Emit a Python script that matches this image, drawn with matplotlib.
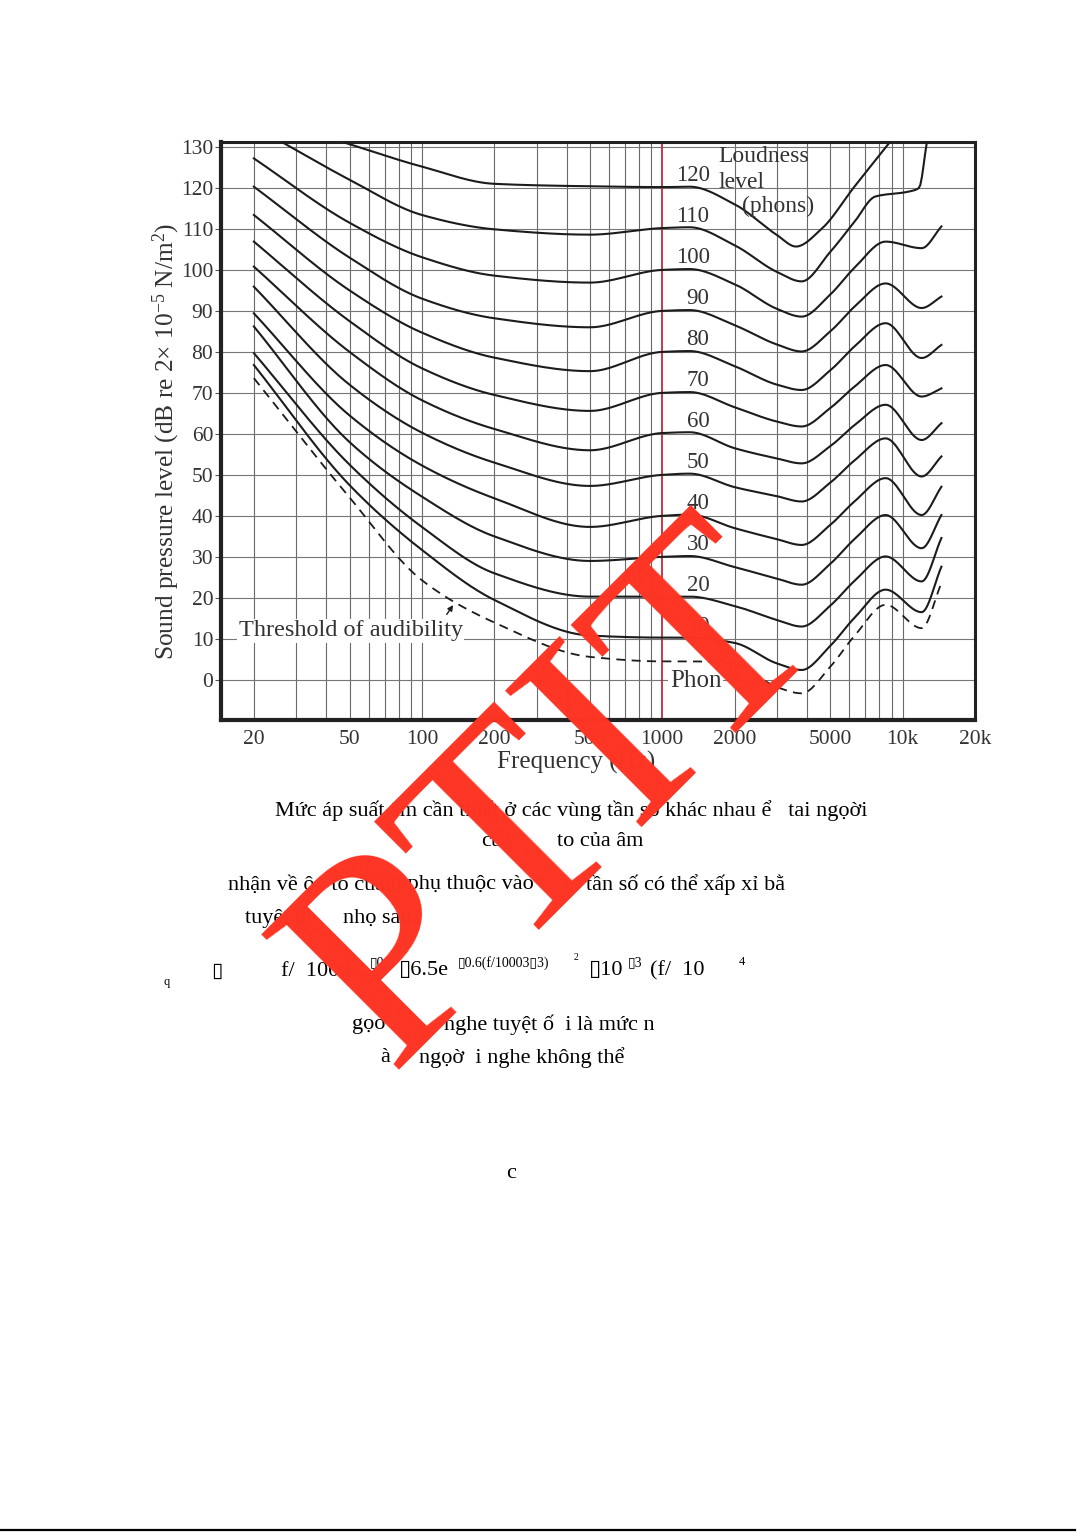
import numpy as np
import matplotlib.pyplot as plt

plt.rcParams['font.family'] = ['Liberation Serif', 'DejaVu Sans']
plt.rcParams['mathtext.fontset'] = 'custom'
plt.rcParams['mathtext.rm'] = 'Liberation Serif'
plt.rcParams['mathtext.it'] = 'Liberation Serif:italic'

# ---- equal-loudness contours (Hz, dB) ----
freqs = [20, 50, 100, 200, 500, 1000, 1300, 2000, 3000, 3800, 5000, 6300, 8500, 12000, 14500]
phons = [100, 90, 80, 70, 60, 50, 40, 30, 20, 10]
spl_100 = [127.2, 111.5, 103.1, 98.6, 96.9, 100, 100.2, 96.5, 90.5, 88.6, 94, 100.5, 106.9, 105.3, 110.6]
spl_90 = [120.3, 103, 93, 88.2, 86, 90, 90.2, 86.5, 81.8, 80.1, 85, 91, 96.7, 90.7, 93.5]
spl_80 = [113.4, 95, 84.7, 78.6, 75.3, 80, 80.2, 76.5, 72, 70.7, 75.5, 81.3, 87, 78.5, 81.7]
spl_70 = [106.9, 87.5, 76, 69.5, 65.6, 70, 70.2, 66.5, 63, 61.8, 66.3, 71.5, 76.8, 69.1, 71.1]
spl_60 = [100.8, 80, 68.2, 61.2, 56, 60.2, 60.4, 56.5, 54, 52.8, 57, 62.1, 67.1, 58.5, 62.6]
spl_50 = [95.9, 72, 60.3, 53, 47.3, 50, 50.3, 47, 44.8, 43.5, 48.1, 53.5, 58.9, 49.6, 54.5]
spl_40 = [89.4, 64.5, 52.3, 44.3, 37.3, 40, 40.3, 37, 34.3, 32.9, 37.8, 43.5, 49.2, 40.2, 47.1]
spl_30 = [86.2, 58, 44.7, 35, 29, 30, 30.2, 27.5, 24.7, 23.2, 28.3, 34.3, 40.2, 32.1, 40.2]
spl_20 = [79.7, 52.5, 37.3, 26, 20.3, 20.3, 20.3, 18, 14.6, 13, 18.1, 24.1, 30.1, 24, 34.6]
spl_10 = [76.8, 47.5, 31.7, 19.5, 10.8, 10.3, 10.3, 9, 4, 2.4, 8.3, 15.1, 22, 16.5, 27.6]
spl_thr = [73.6, 44.5, 24.3, 14, 5.6, 4.5, 4.5, 4, -1.8, -3.3, 3.2, 10.7, 18.3, 12.6, 23.6]

f_110 = [26.5, 50, 100, 200, 500, 1000, 1300, 2000, 3000, 3800, 5000, 6300, 7700, 10600, 11700, 12600]
spl_110 = [131, 122, 113.4, 109.9, 108.6, 110.2, 110.4, 106, 99.5, 97.2, 104.4, 111.7, 117.9, 119.1, 120, 131]
f_120 = [48, 100, 200, 500, 1000, 1300, 2000, 3000, 3600, 4600, 6300, 8800]
spl_120 = [131, 125.2, 121, 120.4, 120.2, 120.3, 116, 108.5, 105.7, 110, 120.3, 131]

label_phons = [120, 110, 100, 90, 80, 70, 60, 50, 40, 30, 20, 10]
xtick_vals = [20, 50, 100, 200, 500, 1000, 2000, 5000, 10000, 20000]
xtick_text = ['20', '50', '100', '200', '500', '1000', '2000', '5000', '10k', '20k']
grid_freqs = ([20, 30, 40, 50, 60, 70, 80, 90] + list(range(100, 1000, 100))
              + list(range(2000, 10001, 1000)))


def pchip(x, y, xs):
    # monotone cubic through the read points (in log-frequency)
    x = np.asarray(x, float)
    y = np.asarray(y, float)
    h = np.diff(x)
    d = np.diff(y) / h
    m = np.zeros_like(y)
    m[0], m[-1] = d[0], d[-1]
    for k in range(1, len(x) - 1):
        if d[k - 1] * d[k] > 0:
            w1 = 2 * h[k] + h[k - 1]
            w2 = h[k] + 2 * h[k - 1]
            m[k] = (w1 + w2) / (w1 / d[k - 1] + w2 / d[k])
    i = np.clip(np.searchsorted(x, xs) - 1, 0, len(x) - 2)
    t = (xs - x[i]) / h[i]
    h00 = 2 * t**3 - 3 * t**2 + 1
    h10 = t**3 - 2 * t**2 + t
    h01 = -2 * t**3 + 3 * t**2
    h11 = t**3 - t**2
    return h00 * y[i] + h10 * h[i] * m[i] + h01 * y[i + 1] + h11 * h[i] * m[i + 1]


def curve(f, v):
    lf = np.log10(f)
    xs = np.linspace(lf[0], lf[-1], 400)
    return 10**xs, pchip(lf, v, xs)


W, H = 1078, 1532
fig = plt.figure(figsize=(W / 100, H / 100), dpi=100)


def px(x, y):
    return x / W, 1 - y / H


ax = fig.add_axes([221 / W, 1 - 720 / H, 754 / W, 578 / H])
ax.set_xscale('log')
ax.set_xlim(14.6, 20000)
ax.set_ylim(-9.8, 131.2)

for g in grid_freqs:
    ax.axvline(g, color='#6a6a6a', lw=0.8, zorder=1)
for g in range(0, 131, 10):
    ax.axhline(g, color='#777777', lw=0.8, zorder=1)
ax.axvline(1000, color='#c42a3c', lw=1.3, zorder=2)

ink = '#1c1c1c'
all_spl = [spl_100, spl_90, spl_80, spl_70, spl_60, spl_50, spl_40, spl_30, spl_20, spl_10]
for v in all_spl:
    x, y = curve(freqs, v)
    ax.plot(x, y, color=ink, lw=1.5, zorder=3)
x, y = curve(f_110, spl_110)
ax.plot(x, y, color=ink, lw=1.5, zorder=3)
x, y = curve(f_120, spl_120)
ax.plot(x, y, color=ink, lw=1.5, zorder=3)
x, y = curve(freqs, spl_thr)
ax.plot(x, y, color=ink, lw=1.3, ls=(0, (5, 3.5)), zorder=3)

txt = '#333333'
for p in label_phons:
    fx = 1343 if p >= 100 else 1408
    ax.text(fx, p + 3, str(p), ha='center', va='center', fontsize=16.5, color=txt, zorder=4)

ax.text(1718, 127.6, 'Loudness', ha='left', va='center', fontsize=17, color=txt, zorder=4)
ax.text(1718, 121.3, 'level', ha='left', va='center', fontsize=17, color=txt, zorder=4)
ax.text(2140, 115.4, '(phons)', ha='left', va='center', fontsize=17, color=txt, zorder=4)
ax.text(17.3, 12, 'Threshold of audibility', ha='left', va='center', fontsize=17.5,
        color=txt, zorder=4, bbox=dict(facecolor='white', edgecolor='none', pad=1))
ax.annotate('', xy=(137, 18.8), xytext=(125, 15.4),
            arrowprops=dict(arrowstyle='-|>', color=ink, lw=1, mutation_scale=8), zorder=4)
ax.text(1075, -0.2, 'Phon', ha='left', va='center', fontsize=18, color=txt, zorder=4,
        bbox=dict(facecolor='white', edgecolor='none', pad=1))

ax.set_yticks(range(0, 131, 10))
ax.set_xticks(xtick_vals)
ax.set_xticklabels(xtick_text)
ax.minorticks_off()
ax.tick_params(axis='y', direction='out', length=4, width=0.8, pad=1.5,
               labelsize=15.5, labelcolor=txt, color='#555555')
ax.tick_params(axis='x', length=0, pad=7, labelsize=15.5, labelcolor=txt)
for side, lw in [('left', 3), ('bottom', 3), ('top', 2.2), ('right', 2.2)]:
    ax.spines[side].set_linewidth(lw)
    ax.spines[side].set_color('#222222')

fig.text(*px(576, 762), 'Frequency (Hz)', ha='center', va='center', fontsize=18, color=txt)
fig.text(*px(166, 441), 'Sound pressure level (dB re 2$\\times$ 10$^{-5}$ N/m$^2$)',
         rotation=90, ha='center', va='center', fontsize=18.3, color=txt)

# ---- page text under the figure ----
body = 16
fig.text(*px(571, 811), 'Mức áp suất âm cần thiết ở các vùng tần số khác nhau ể   tai ngọời',
         ha='center', va='center', fontsize=body)
fig.text(*px(481, 841), 'cuả', ha='left', va='center', fontsize=body)
fig.text(*px(557, 841), 'to của âm', ha='left', va='center', fontsize=body)
fig.text(*px(228, 885), 'nhận về ộ   to của', ha='left', va='center', fontsize=body)
fig.text(*px(375, 885), 'âm phụ thuộc vào', ha='left', va='center', fontsize=body)
fig.text(*px(586, 885), 'tần số có thể xấp xỉ bằ', ha='left', va='center', fontsize=body)
fig.text(*px(245, 918), 'tuyệt ối', ha='left', va='center', fontsize=body)
fig.text(*px(343, 918), 'nhọ sau:', ha='left', va='center', fontsize=body)

fig.text(*px(163, 982), 'q', ha='left', va='center', fontsize=9)
fig.text(*px(211, 971), '\u25af', ha='left', va='center', fontsize=15, family='DejaVu Sans')
fig.text(*px(281, 971), 'f/  1000', ha='left', va='center', fontsize=16)
fig.text(*px(370, 963), '\u25af0.8', ha='left', va='center', fontsize=10)
fig.text(*px(399, 971), '\u25af6.5e', ha='left', va='center', fontsize=16)
fig.text(*px(458, 963), '\u25af0.6(f/10003\u25af3)', ha='left', va='center', fontsize=10)
fig.text(*px(574, 958), '2', ha='left', va='center', fontsize=7)
fig.text(*px(589, 971), '\u25af10', ha='left', va='center', fontsize=16)
fig.text(*px(628, 963), '\u25af3', ha='left', va='center', fontsize=10)
fig.text(*px(650, 971), '(f/  10', ha='left', va='center', fontsize=16)
fig.text(*px(739, 962), '4', ha='left', va='center', fontsize=9)

fig.text(*px(352, 1025), 'gọo', ha='left', va='center', fontsize=body)
fig.text(*px(655, 1025), 'nghe tuyệt ố  i là mức n', ha='right', va='center', fontsize=body)
fig.text(*px(380, 1058), 'à', ha='left', va='center', fontsize=body)
fig.text(*px(624, 1058), 'ngọờ  i nghe không thể', ha='right', va='center', fontsize=body)
fig.text(*px(511, 1173), 'c', ha='center', va='center', fontsize=body)

fig.add_artist(plt.Line2D([0, 1075 / W], [1 - 1530 / H] * 2, color='black', lw=1.6))

# ---- red watermark ----
fig.text(*px(390, 1071), 'PTIT', rotation=45, rotation_mode='anchor', ha='left',
         va='baseline', fontsize=212, family='Liberation Serif',
         color='#fd3424', zorder=10)

fig.savefig('out.png', dpi=100, facecolor='white')
